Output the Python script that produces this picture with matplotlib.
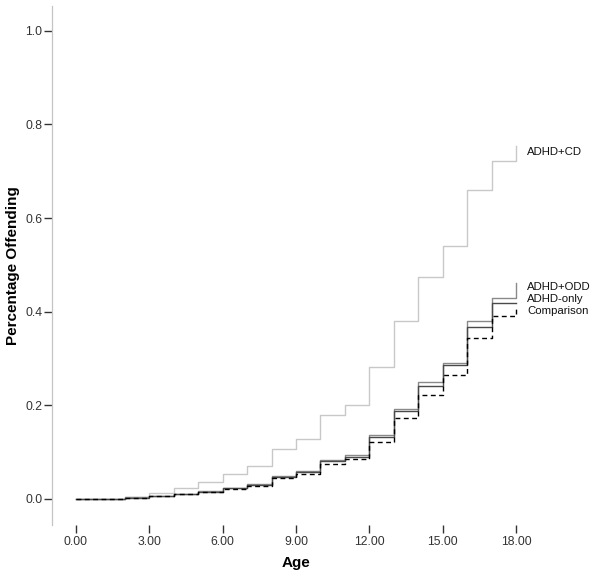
import matplotlib
matplotlib.use("Agg")
import matplotlib.pyplot as plt
import numpy as np

plt.rcParams["font.family"] = ["Liberation Sans", "DejaVu Sans"]

# cumulative proportion offending, level held from each age to the next
ages = list(range(0, 19))
adhd_cd = [0, 0, 0.003, 0.013, 0.023, 0.036, 0.053, 0.070, 0.107, 0.127,
           0.179, 0.201, 0.281, 0.379, 0.475, 0.540, 0.660, 0.721, 0.753]
adhd_odd = [0, 0, 0.003, 0.007, 0.011, 0.016, 0.023, 0.031, 0.049, 0.059,
            0.083, 0.093, 0.137, 0.192, 0.249, 0.291, 0.379, 0.429, 0.461]
adhd_only = [0, 0, 0.002, 0.006, 0.010, 0.015, 0.022, 0.030, 0.047, 0.057,
             0.080, 0.089, 0.132, 0.187, 0.241, 0.286, 0.368, 0.418, 0.418]
comparison = [0, 0, 0.002, 0.006, 0.010, 0.015, 0.021, 0.028, 0.044, 0.053,
              0.075, 0.084, 0.122, 0.172, 0.222, 0.265, 0.343, 0.391, 0.412]

group_names = ["ADHD+CD", "ADHD+ODD", "ADHD-only", "Comparison"]
label_y = [0.742, 0.452, 0.427, 0.401]

x_ticks = [0, 3, 6, 9, 12, 15, 18]
y_ticks = [0.0, 0.2, 0.4, 0.6, 0.8, 1.0]

fig = plt.figure(figsize=(6.0, 5.83), dpi=100)
ax = fig.add_axes([0.0867, 0.0995, 0.8133, 0.890])

styles = [
    dict(color="#c8c8c8", ls="-", lw=1.0, zorder=2),
    dict(color="#8a8a8a", ls="-", lw=1.0, zorder=3),
    dict(color="#4a4a4a", ls="-", lw=1.0, zorder=4),
    dict(color="#000000", ls=(0, (3.5, 2.5)), lw=1.0, zorder=5),
]
for vals, st in zip([adhd_cd, adhd_odd, adhd_only, comparison], styles):
    ax.step(ages, vals, where="post", **st)

for name, yv in zip(group_names, label_y):
    ax.text(18.45, yv, name, fontsize=8.2, color="#111111",
            va="center", ha="left", clip_on=False)

ax.set_xlim(-0.97, 18.97)
ax.set_ylim(-0.056, 1.053)

ax.set_xticks(x_ticks)
ax.set_xticklabels([f"{t:.2f}" for t in x_ticks])
ax.set_yticks(y_ticks)
ax.set_yticklabels([f"{t:.1f}" for t in y_ticks])

for s in ["top", "right", "bottom"]:
    ax.spines[s].set_visible(False)
ax.spines["left"].set_color("#c4c4c4")
ax.spines["left"].set_linewidth(0.9)

ax.tick_params(axis="y", length=6, width=1.0, color="#333333", pad=1,
               labelsize=8.8, labelcolor="#333333")
ax.tick_params(axis="x", length=6, width=1.0, color="#333333", pad=2,
               labelsize=8.8, labelcolor="#333333")

ax.set_xlabel("Age", fontsize=11, fontweight="bold", labelpad=6)
ax.set_ylabel("Percentage Offending", fontsize=11, fontweight="bold", labelpad=4)

fig.savefig("out.png", dpi=100)
